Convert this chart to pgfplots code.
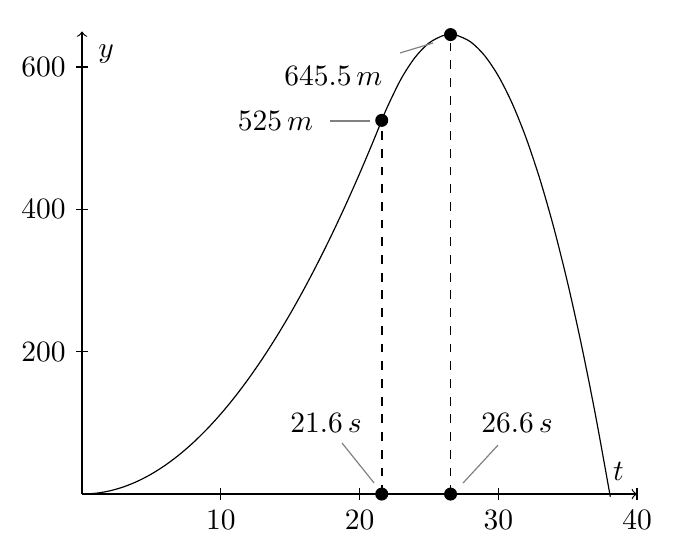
\documentclass[border=0pt]{standalone}
\usepackage{pgfplots}
\pgfplotsset{compat=1.18}

\begin{document}
\begin{tikzpicture}
\begin{axis}[
    scale only axis,
    width=188.1pt, height=156.8pt,
    axis lines=middle,
    axis line style={->},
    xmin=0, xmax=40, ymin=0, ymax=650,
    xtick={10,20,30,40},
    ytick={200,400,600},
    tick align=center,
    major tick length=4pt,
    tick style={black, thin},
    xlabel={$t$}, ylabel={$y$},
    xlabel style={anchor=south east, at={(axis cs:40,0)}, xshift=-1pt, yshift=1pt},
    ylabel style={anchor=north west, at={(axis cs:0,650)}, xshift=2pt, yshift=-1pt},
    clip=false,
]
% burn phase
\addplot[black, thin, smooth] coordinates {
  (0,0) (1,1.125) (2,4.5) (3,10.125) (4,18) (5,28.125) (6,40.5) (7,55.125)
  (8,72) (9,91.125) (10,112.5) (11,136.125) (12,162) (13,190.125) (14,220.5)
  (15,253.125) (16,288) (17,325.125) (18,364.5) (19,406.125) (20,450)
  (21,496.125) (21.6,525)
};
% free flight
\addplot[black, thin, smooth] coordinates {
  (21.6,525) (22,543.66) (23,583.44) (24,613.42) (25,633.60) (26,643.98)
  (26.56,645.5) (27,644.56) (28,635.34) (29,616.32) (30,587.50) (31,548.88)
  (32,500.46) (33,442.24) (34,374.22) (35,296.40) (36,208.78) (37,111.36)
  (38,4.14) (38.04,0)
};
\addplot[black, dashed, semithick] coordinates {(21.6,0) (21.6,525)};
\addplot[black, dashed, semithick] coordinates {(26.56,0) (26.56,645.5)};
\addplot[only marks, mark=*, mark size=2pt, black] coordinates {
  (21.6,525) (26.56,645.5) (21.6,0) (26.56,0)
};

% annotations
\draw[gray] (axis cs:17.87,524) -- (axis cs:20.76,524);
\node[anchor=east] at (axis cs:17.4,524) {$525\,m$};
\draw[gray] (axis cs:22.92,619.7) -- (axis cs:25.30,633.7);
\node[anchor=east] at (axis cs:22.4,588) {$645.5\,m$};
\draw[gray] (axis cs:18.74,71.7) -- (axis cs:21.05,15.5);
\node at (axis cs:17.59,99.8) {$21.6\,s$};
\draw[gray] (axis cs:29.98,68.8) -- (axis cs:27.46,15.5);
\node at (axis cs:31.35,99.8) {$26.6\,s$};

% page proportions of the reference
\path (axis cs:-5.91,-78.7) rectangle (axis cs:42.59,694.1);
\end{axis}
\end{tikzpicture}
\end{document}
